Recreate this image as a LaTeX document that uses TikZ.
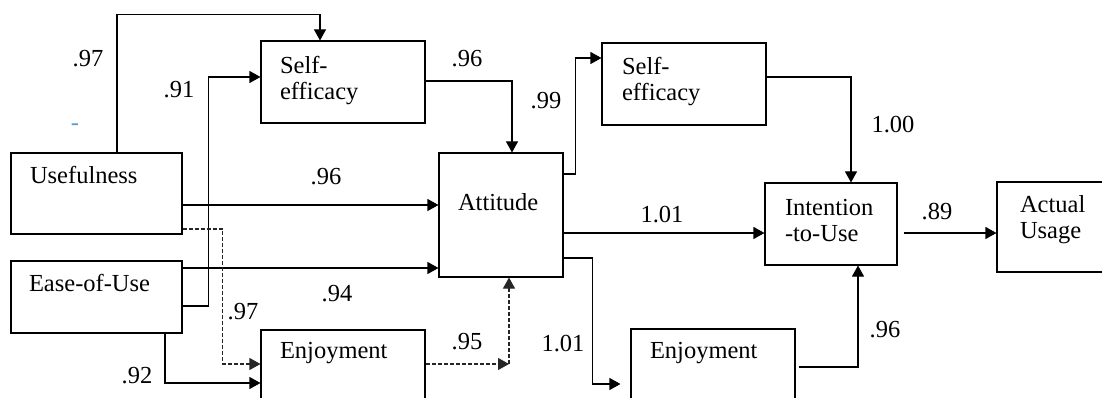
\documentclass[tikz,border=0pt]{standalone}
\usepackage{fontspec}
\setmainfont{Liberation Serif}
\usetikzlibrary{arrows.meta}
\definecolor{dashblue}{RGB}{91,155,213}

\begin{document}
\begin{tikzpicture}[x=1pt, y=-1pt, line width=1.1pt,
  every node/.style={font=\fontsize{24.5}{26}\selectfont, inner sep=0pt},
  box/.style={draw, rectangle, line width=1.1pt},
  txt/.style={anchor=north west, align=left},
  arr/.style={-{Triangle[length=11pt, width=12pt]}},
  dsh/.style={dash pattern=on 4pt off 2pt, draw=black!85}]
  \useasboundingbox (0,0) rectangle (1102,398);
  \clip (0,0) rectangle (1102,398);
  \node[box, minimum width=171pt, minimum height=81pt] (use) at (96.5,193.5) {};
  \node[box, minimum width=171pt, minimum height=72pt] (ease) at (96.5,297) {};
  \node[box, minimum width=164pt, minimum height=82pt] (se1) at (343,82) {};
  \node[box, minimum width=164pt, minimum height=90pt] (enj1) at (343,375) {};
  \node[box, minimum width=124pt, minimum height=124pt] (att) at (501,215) {};
  \node[box, minimum width=164pt, minimum height=82pt] (se2) at (684,84) {};
  \node[box, minimum width=164pt, minimum height=91pt] (enj2) at (713,374.5) {};
  \node[box, minimum width=132pt, minimum height=82pt] (int) at (831,224) {};
  \node[box, minimum width=118pt, minimum height=90pt] (act) at (1056,227) {};
  \node[txt] (usetext) at ([shift={(19pt,-13.6pt)}]use.north west) {Usefulness};
  \node[txt] (easetext) at ([shift={(18pt,-13.6pt)}]ease.north west) {Ease-of-Use};
  \node[txt] (se1text) at ([shift={(19pt,-15.6pt)}]se1.north west) {Self-\\efficacy};
  \node[txt] (se2text) at ([shift={(20pt,-14.6pt)}]se2.north west) {Self-\\efficacy};
  \node[txt] (atttext) at ([shift={(19pt,-40.6pt)}]att.north west) {Attitude};
  \node[txt] (enj1text) at ([shift={(19pt,-12.6pt)}]enj1.north west) {Enjoyment};
  \node[txt] (enj2text) at ([shift={(19pt,-13.6pt)}]enj2.north west) {Enjoyment};
  \node[txt] (inttext) at ([shift={(20pt,-16pt)}]int.north west) {Intention\\-to-Use};
  \node[txt] (acttext) at ([shift={(23pt,-13.6pt)}]act.north west) {Actual\\Usage};
  \coordinate (j1) at (509,364);
  \draw[arr] ([xshift=20.5pt]use.north) |- ([xshift=-23pt,yshift=26pt]se1.north) -- ([xshift=-23pt]se1.north);
  \draw[arr] ([yshift=-9pt]ease.east) -- ++(26pt,0) |- ([yshift=5pt]se1.west);
  \draw[arr] ([yshift=-11.5pt]use.east) -- ([yshift=-11.5pt]use.east -| att.west);
  \draw[arr] ([yshift=29pt]ease.east) -- ([yshift=29pt]ease.east -| att.west);
  \draw[arr, dsh] ([yshift=-35.5pt]use.east) -- ++(40pt,0) |- ([yshift=11pt]enj1.west);
  \draw[arr] ([xshift=68.5pt]ease.south) |- ([yshift=-8pt]enj1.west);
  \draw[arr] ([yshift=1pt]se1.east) -| ([xshift=11pt]att.north);
  \draw[arr, dsh] ([yshift=11pt]enj1.east) -- (j1);
  \draw[arr, dsh] (j1) -- (j1 |- att.south);
  \draw[arr] ([yshift=41pt]att.east) -- ++(12pt,0) |- ([yshift=26pt]se2.west);
  \draw[arr] ([yshift=-18pt]att.east) -- ([yshift=-18pt]att.east -| int.west);
  \draw[arr] ([yshift=-43pt]att.east) -- ++(29pt,0) |- ([xshift=-10pt,yshift=-9.5pt]enj2.west);
  \draw[arr] ([yshift=7pt]se2.east) -| ([xshift=20pt]int.north);
  \draw[arr] ([xshift=3pt,yshift=7.5pt]enj2.east) -| ([xshift=27pt]int.south);
  \draw[arr] ([xshift=6pt,yshift=-9pt]int.east) -- ([yshift=-9pt]int.east -| act.west);
  \node (c1) at (88,59) {.97};
  \node (c2) at (179,90) {.91};
  \node (c3) at (326,177) {.96};
  \node (c4) at (337,294) {.94};
  \node (c5) at (243,312) {.97};
  \node (c6) at (137,376) {.92};
  \node (c7) at (467,59) {.96};
  \node (c8) at (546,101) {.99};
  \node (c9) at (662,215) {1.01};
  \node (c10) at (467,342) {.95};
  \node (c11) at (563,344) {1.01};
  \node (c12) at (893,125) {1.00};
  \node (c13) at (937,212) {.89};
  \node (c14) at (885,330) {.96};
  \node[text=dashblue] (mark) at (75,127) {-};
\end{tikzpicture}
\end{document}
